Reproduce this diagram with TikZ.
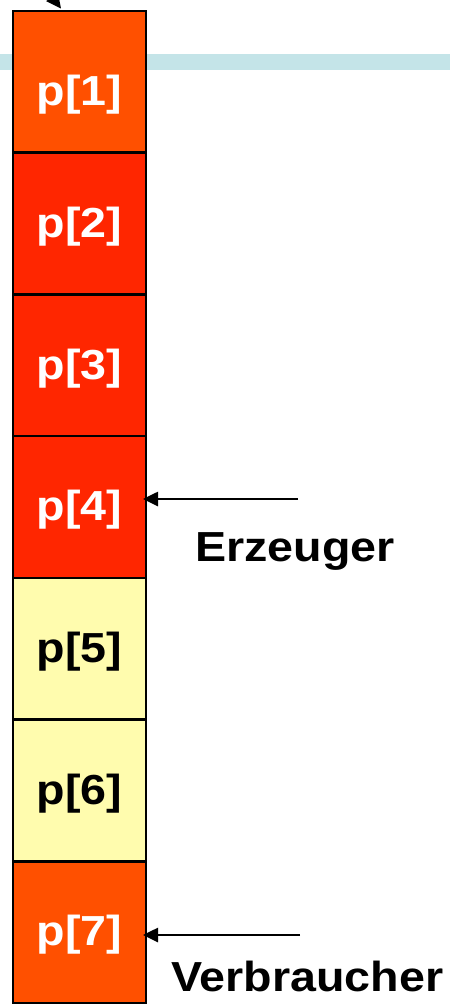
\documentclass[tikz,border=0pt]{standalone}
\usepackage{fontspec}
\newfontfamily\lab{Liberation Sans Bold}[FakeStretch=1.11]
\usetikzlibrary{arrows.meta,calc}
\definecolor{cOrange}{HTML}{FF5000}
\definecolor{cRed}{HTML}{FF2600}
\definecolor{cYellow}{HTML}{FFFCAE}
\definecolor{cBand}{HTML}{C4E4E8}
\begin{document}
\begin{tikzpicture}[x=1pt,y=-1pt,
  cell/.style={draw=black,line width=2.6pt,minimum width=133pt,minimum height=141.7pt,inner sep=0pt,outer sep=0pt},
  lbl/.style={font=\lab\fontsize{42}{44}\selectfont,inner sep=0pt},
  arr/.style={line width=2.6pt,-{Triangle[length=15pt,width=14pt]}}]
\useasboundingbox (0,0) rectangle (450,1004);
\clip (0,0) rectangle (450,1004);
\fill[cBand] (0,54) rectangle (450,70);
% cells
\node[cell,fill=cOrange] (c1) at (79.5,81.85) {};
\node[cell,fill=cRed]    (c2) at (79.5,223.55) {};
\node[cell,fill=cRed]    (c3) at (79.5,365.25) {};
\node[cell,fill=cRed]    (c4) at (79.5,506.95) {};
\node[cell,fill=cYellow] (c5) at (79.5,648.65) {};
\node[cell,fill=cYellow] (c6) at (79.5,790.35) {};
\node[cell,fill=cOrange] (c7) at (79.5,932.05) {};
% labels
\node[lbl,text=white] (l1) at ($(c1.center)+(0,13)$) {p[1]};
\node[lbl,text=white] (l2) at ($(c2.center)+(0,3)$) {p[2]};
\node[lbl,text=white] (l3) at ($(c3.center)+(0,3)$) {p[3]};
\node[lbl,text=white] (l4) at ($(c4.center)+(0,3)$) {p[4]};
\node[lbl,text=black] (l5) at ($(c5.center)+(0,3)$) {p[5]};
\node[lbl,text=black] (l6) at ($(c6.center)+(0,3)$) {p[6]};
\node[lbl,text=white] (l7) at ($(c7.center)+(0,3)$) {p[7]};
% arrows
\coordinate (e) at (298,499);
\coordinate (v) at (300,935);
\coordinate (t) at (25,-39);
\draw[arr,shorten >=-3pt] (e) -- (e -| c4.east);
\draw[arr,shorten >=-3pt] (v) -- (v -| c7.east);
\draw[arr,shorten >=3pt] (t) -- ($(c1.north west)!0.375!(c1.north east)$);
% texts
\node[lbl,anchor=base west] (erz) at (195,561) {Erzeuger};
\node[lbl,anchor=base west] (ver) at (171,991) {Verbraucher};
\end{tikzpicture}
\end{document}
